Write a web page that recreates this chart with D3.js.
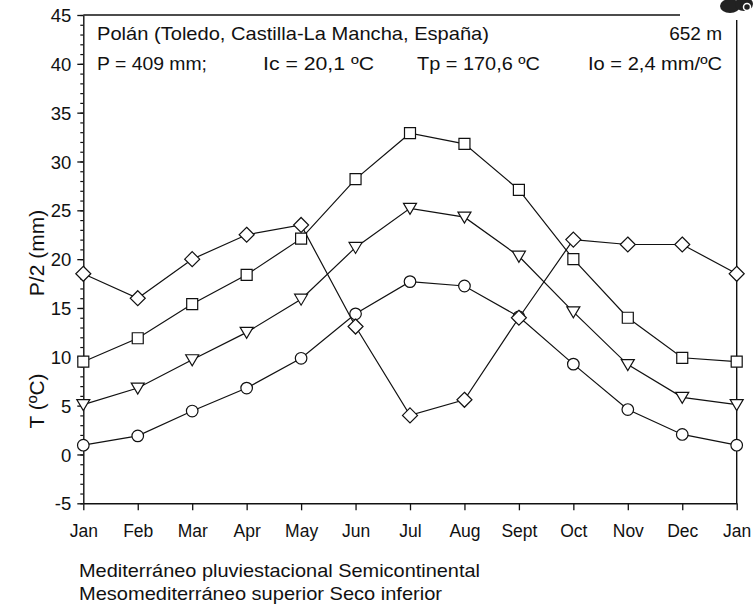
<!DOCTYPE html>
<html>
<head>
<meta charset="utf-8">
<script src="https://cdn.jsdelivr.net/npm/d3@7"></script>
<style>
  body { margin: 0; background: #fff; }
  text { font-family: "Liberation Sans", Arial, sans-serif; fill: #111; }
</style>
</head>
<body>
<svg id="chart" width="753" height="607"></svg>
<script>
// month labels (Jan repeated to close the year)
const months = ['Jan', 'Feb', 'Mar', 'Apr', 'May', 'Jun', 'Jul', 'Aug', 'Sept', 'Oct', 'Nov', 'Dec', 'Jan']

// P/2 (mm) - diamonds
const precip = [18.5, 16.0, 20.0, 22.5, 23.5, 13.1, 4.0, 5.6, 14.0, 22.0, 21.5, 21.5, 18.5]
// mean of max temps - squares
const tmax = [9.5, 11.9, 15.4, 18.4, 22.1, 28.2, 32.9, 31.8, 27.1, 20.0, 14.0, 9.9, 9.5]
// mean temp - triangles
const tmean = [5.1, 6.8, 9.7, 12.5, 15.9, 21.2, 25.2, 24.3, 20.3, 14.6, 9.2, 5.85, 5.1]
// mean of min temps - circles
const tmin = [0.95, 1.9, 4.45, 6.8, 9.85, 14.4, 17.7, 17.25, 14.1, 9.25, 4.6, 2.05, 0.95]

const yTicks = [-5, 0, 5, 10, 15, 20, 25, 30, 35, 40, 45]

const header1 = 'Polán (Toledo, Castilla-La Mancha, España)'
const altitude = '652 m'
const indices = ['P = 409 mm;', 'Ic = 20,1 ºC', 'Tp = 170,6 ºC', 'Io = 2,4 mm/ºC']
const footer = ['Mediterráneo pluviestacional Semicontinental',
                'Mesomediterráneo superior Seco inferior']

let svg = d3.select('#chart')

let x = d3.scaleLinear().domain([0, 12]).range([83.3, 736.7]),
    y = d3.scaleLinear().domain([-5, 45]).range([503.3, 15])

// frame: top line (broken by logo) and right line
svg.append('line').attr('x1', 83.3).attr('x2', 680).attr('y1', 15).attr('y2', 15)
    .style('stroke', '#111').style('stroke-width', 1.4)
svg.append('line').attr('x1', 736.7).attr('x2', 736.7).attr('y1', 20).attr('y2', 503.3)
    .style('stroke', '#111').style('stroke-width', 1.4)

// minor ticks on y
svg.append('g').attr('transform', 'translate(83.3,0)')
    .call(d3.axisLeft(y).tickValues(d3.range(-5, 46, 1)).tickSize(3).tickFormat(''))
    .call(g => g.select('.domain').remove())
    .call(g => g.selectAll('line').style('stroke', '#111').style('stroke-width', 1.2))

// major y axis
svg.append('g').attr('transform', 'translate(83.3,0)')
    .call(d3.axisLeft(y).tickValues(yTicks).tickFormat(d => String(d))
        .tickSize(6).tickSizeOuter(0).tickPadding(6))
    .call(g => g.select('.domain').style('stroke', '#111').style('stroke-width', 1.4))
    .call(g => g.selectAll('line').style('stroke', '#111').style('stroke-width', 1.3))
    .call(g => g.selectAll('text').style('font-size', '18.5px').attr('dy', '0.36em'))

// x axis
svg.append('g').attr('transform', 'translate(0,503.3)')
    .call(d3.axisBottom(x).tickValues(d3.range(13)).tickFormat(i => months[i])
        .tickSize(7).tickSizeOuter(0).tickPadding(14))
    .call(g => g.select('.domain').style('stroke', '#111').style('stroke-width', 1.4))
    .call(g => g.selectAll('line').style('stroke', '#111').style('stroke-width', 1.3))
    .call(g => g.selectAll('text').style('font-size', '17.5px'))

// axis titles
svg.append('text').attr('transform', 'translate(44,253) rotate(-90)')
    .attr('text-anchor', 'middle').style('font-size', '21px').text('P/2 (mm)')
svg.append('text').attr('transform', 'translate(44,401) rotate(-90)')
    .attr('text-anchor', 'middle').style('font-size', '21px').text('T (ºC)')

// header texts
svg.append('text').attr('x', 97).attr('y', 40).style('font-size', '19px')
    .attr('textLength', 392).attr('lengthAdjust', 'spacingAndGlyphs').text(header1)
svg.append('text').attr('x', 722).attr('y', 40).attr('text-anchor', 'end')
    .style('font-size', '19px').text(altitude)
let idxX = [97, 263, 417, 588],
    idxW = [110, 111, 123, 134]
svg.selectAll('text.idx').data(indices).join('text').attr('class', 'idx')
    .attr('x', (d, i) => idxX[i]).attr('y', 70).style('font-size', '19px')
    .attr('textLength', (d, i) => idxW[i]).attr('lengthAdjust', 'spacingAndGlyphs')
    .text(d => d)

// footer texts
let footW = [401, 363]
svg.selectAll('text.foot').data(footer).join('text').attr('class', 'foot')
    .attr('x', 79).attr('y', (d, i) => 577 + i * 23).style('font-size', '19px')
    .attr('textLength', (d, i) => footW[i]).attr('lengthAdjust', 'spacingAndGlyphs')
    .text(d => d)

// small logo at top-right corner
let logo = svg.append('g').attr('transform', 'translate(730,6)')
logo.append('ellipse').attr('rx', 10).attr('ry', 7).style('fill', '#222')
logo.append('ellipse').attr('cx', 14).attr('cy', -2).attr('rx', 9).attr('ry', 7).style('fill', '#222')
logo.append('circle').attr('cx', 17).attr('cy', 1).attr('r', 3.5).style('fill', 'none')
    .style('stroke', '#fff').style('stroke-width', 1.5)

// series lines
let line = d3.line().x((d, i) => x(i)).y(d => y(d))
let series = [
    {vals: tmin, shape: 'circle'},
    {vals: tmean, shape: 'triangle'},
    {vals: tmax, shape: 'square'},
    {vals: precip, shape: 'diamond'}
]
svg.append('g').selectAll('path')
    .data(series)
    .join('path')
    .attr('d', s => line(s.vals))
    .style('fill', 'none')
    .style('stroke', '#111')
    .style('stroke-width', 1.2)

// marker shapes (relative to the point)
let shapes = {
    diamond: 'M0,-7.5L7.5,0L0,7.5L-7.5,0Z',
    square: 'M-5.5,-5.5H5.5V5.5H-5.5Z',
    triangle: 'M-6.5,-5L6.5,-5L0,6Z',
    circle: d3.symbol(d3.symbolCircle, 105)()
}
series.forEach(s => {
    svg.append('g').selectAll('path')
        .data(s.vals)
        .join('path')
        .attr('transform', (d, i) => `translate(${x(i)},${y(d)})`)
        .attr('d', shapes[s.shape])
        .style('fill', '#fff')
        .style('stroke', '#111')
        .style('stroke-width', 1.2)
})
</script>
</body>
</html>
